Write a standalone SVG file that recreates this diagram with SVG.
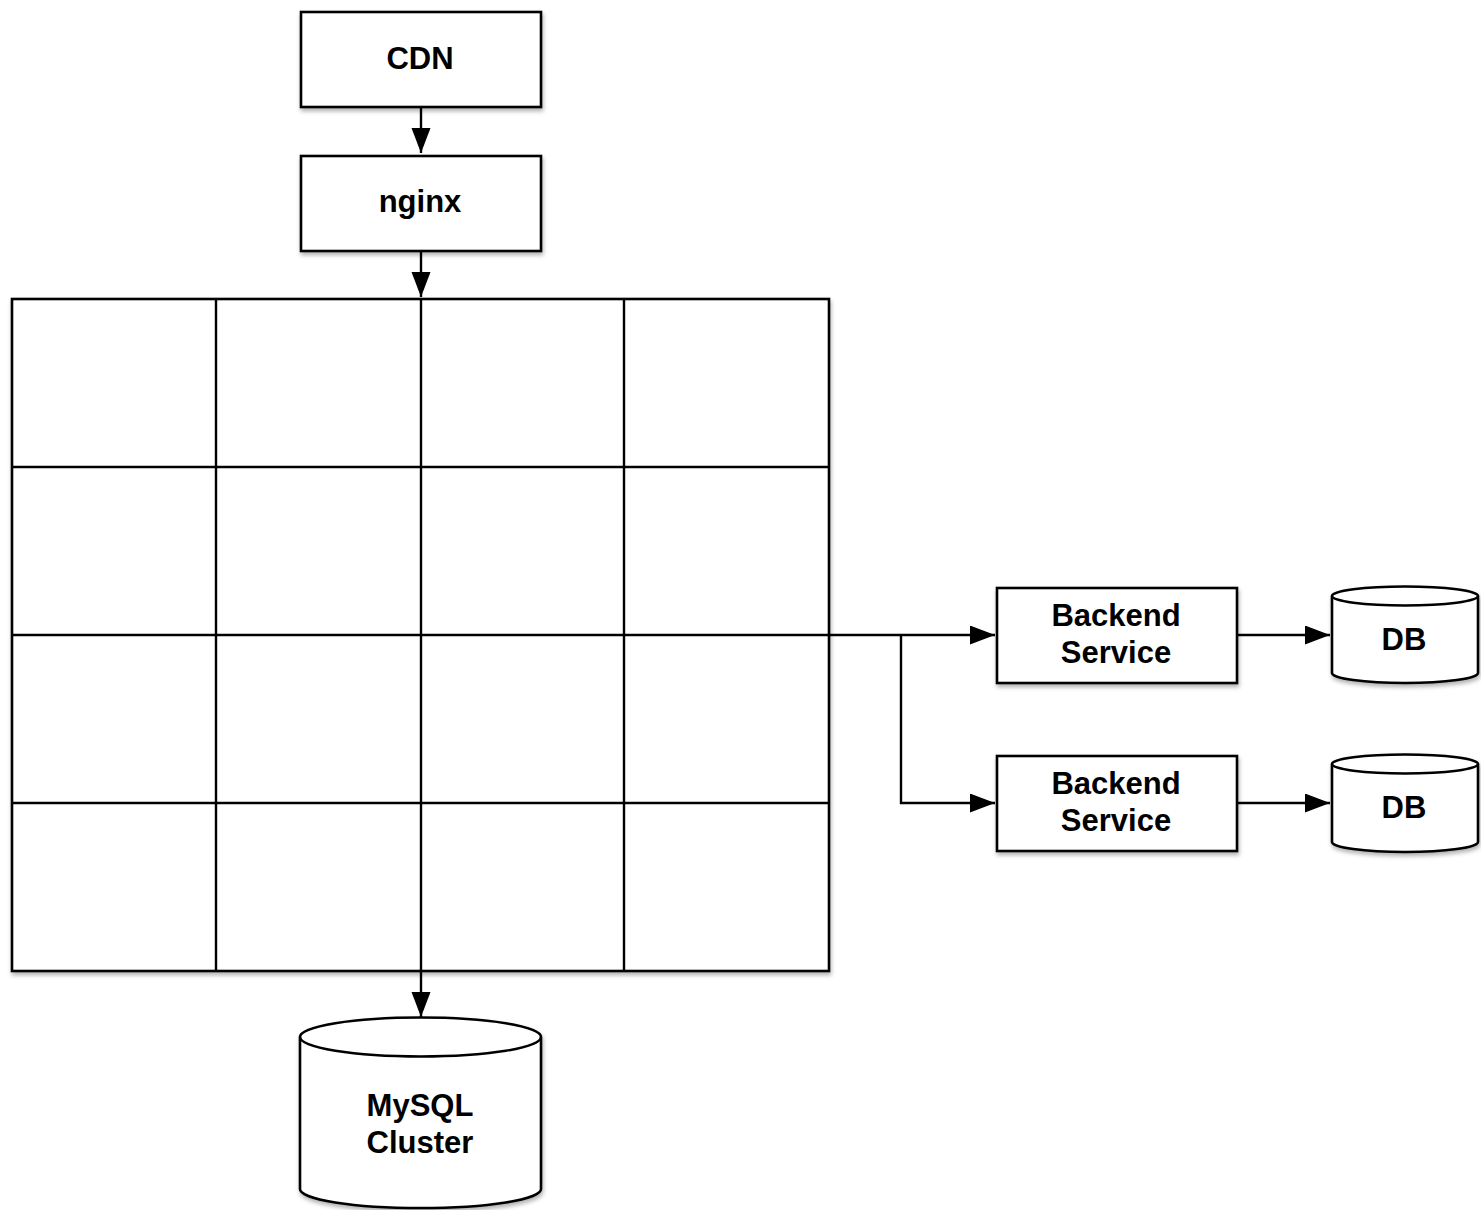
<svg xmlns="http://www.w3.org/2000/svg" width="1481" height="1210" viewBox="0 0 1481 1210">
<style>
.box{fill:#fff;stroke:#000;stroke-width:2.6;filter:url(#sh)}
.ln{fill:none;stroke:#000;stroke-width:2.4}
.t{font-family:"Liberation Sans",Arial,Helvetica,sans-serif;font-weight:bold;font-size:31px;text-anchor:middle;fill:#000}
</style>
<defs>
<filter id="sh" x="-10%" y="-10%" width="120%" height="130%">
<feDropShadow dx="1" dy="3" stdDeviation="2" flood-color="#000" flood-opacity="0.3"/>
</filter>
<marker id="ah" markerUnits="userSpaceOnUse" markerWidth="26" markerHeight="20" refX="25" refY="9.5" orient="auto">
<path d="M0,0 L25,9.5 L0,19 Z" fill="#000"/>
</marker>
</defs>
<rect width="1481" height="1210" fill="#fff"/>
<g id="grid">
<rect class="box" x="12" y="299" width="817" height="672"/>
<path class="ln" d="M216,299V971 M421,299V971 M624,299V971 M12,467H829 M12,635H829 M12,803H829"/>
</g>
<g id="cdn">
<rect class="box" x="301" y="12" width="240" height="95"/>
<text class="t" x="420" y="69">CDN</text>
</g>
<g id="nginx">
<rect class="box" x="301" y="156" width="240" height="95"/>
<text class="t" x="420" y="212">nginx</text>
</g>
<g id="backend1">
<rect class="box" x="997" y="588" width="240" height="95"/>
<text class="t" x="1116" y="626">Backend</text>
<text class="t" x="1116" y="663">Service</text>
</g>
<g id="backend2">
<rect class="box" x="997" y="756" width="240" height="95"/>
<text class="t" x="1116" y="794">Backend</text>
<text class="t" x="1116" y="831">Service</text>
</g>
<g id="db1">
<path class="box" d="M1332,596 A73,9.5 0 0 1 1478,596 V673 A73,10 0 0 1 1332,673 Z"/>
<path class="ln" d="M1332,596 A73,9.5 0 0 0 1478,596"/>
<text class="t" x="1404" y="650">DB</text>
</g>
<g id="db2">
<path class="box" d="M1332,764 A73,9.5 0 0 1 1478,764 V842 A73,10 0 0 1 1332,842 Z"/>
<path class="ln" d="M1332,764 A73,9.5 0 0 0 1478,764"/>
<text class="t" x="1404" y="818">DB</text>
</g>
<g id="mysql">
<path class="box" d="M300,1037 A120.5,19.5 0 0 1 541,1037 V1189 A120.5,19 0 0 1 300,1189 Z"/>
<path class="ln" d="M300,1037 A120.5,19.5 0 0 0 541,1037"/>
<text class="t" x="420" y="1116">MySQL</text>
<text class="t" x="420" y="1153">Cluster</text>
</g>
<g id="connectors">
<line class="ln" x1="421" y1="107" x2="421" y2="153" marker-end="url(#ah)"/>
<line class="ln" x1="421" y1="251" x2="421" y2="297" marker-end="url(#ah)"/>
<line class="ln" x1="421" y1="971" x2="421" y2="1017" marker-end="url(#ah)"/>
<polyline class="ln" points="829,635 995,635" marker-end="url(#ah)"/>
<polyline class="ln" points="901,635 901,803 995,803" marker-end="url(#ah)"/>
<line class="ln" x1="1237" y1="635" x2="1330" y2="635" marker-end="url(#ah)"/>
<line class="ln" x1="1237" y1="803" x2="1330" y2="803" marker-end="url(#ah)"/>
</g>
</svg>
